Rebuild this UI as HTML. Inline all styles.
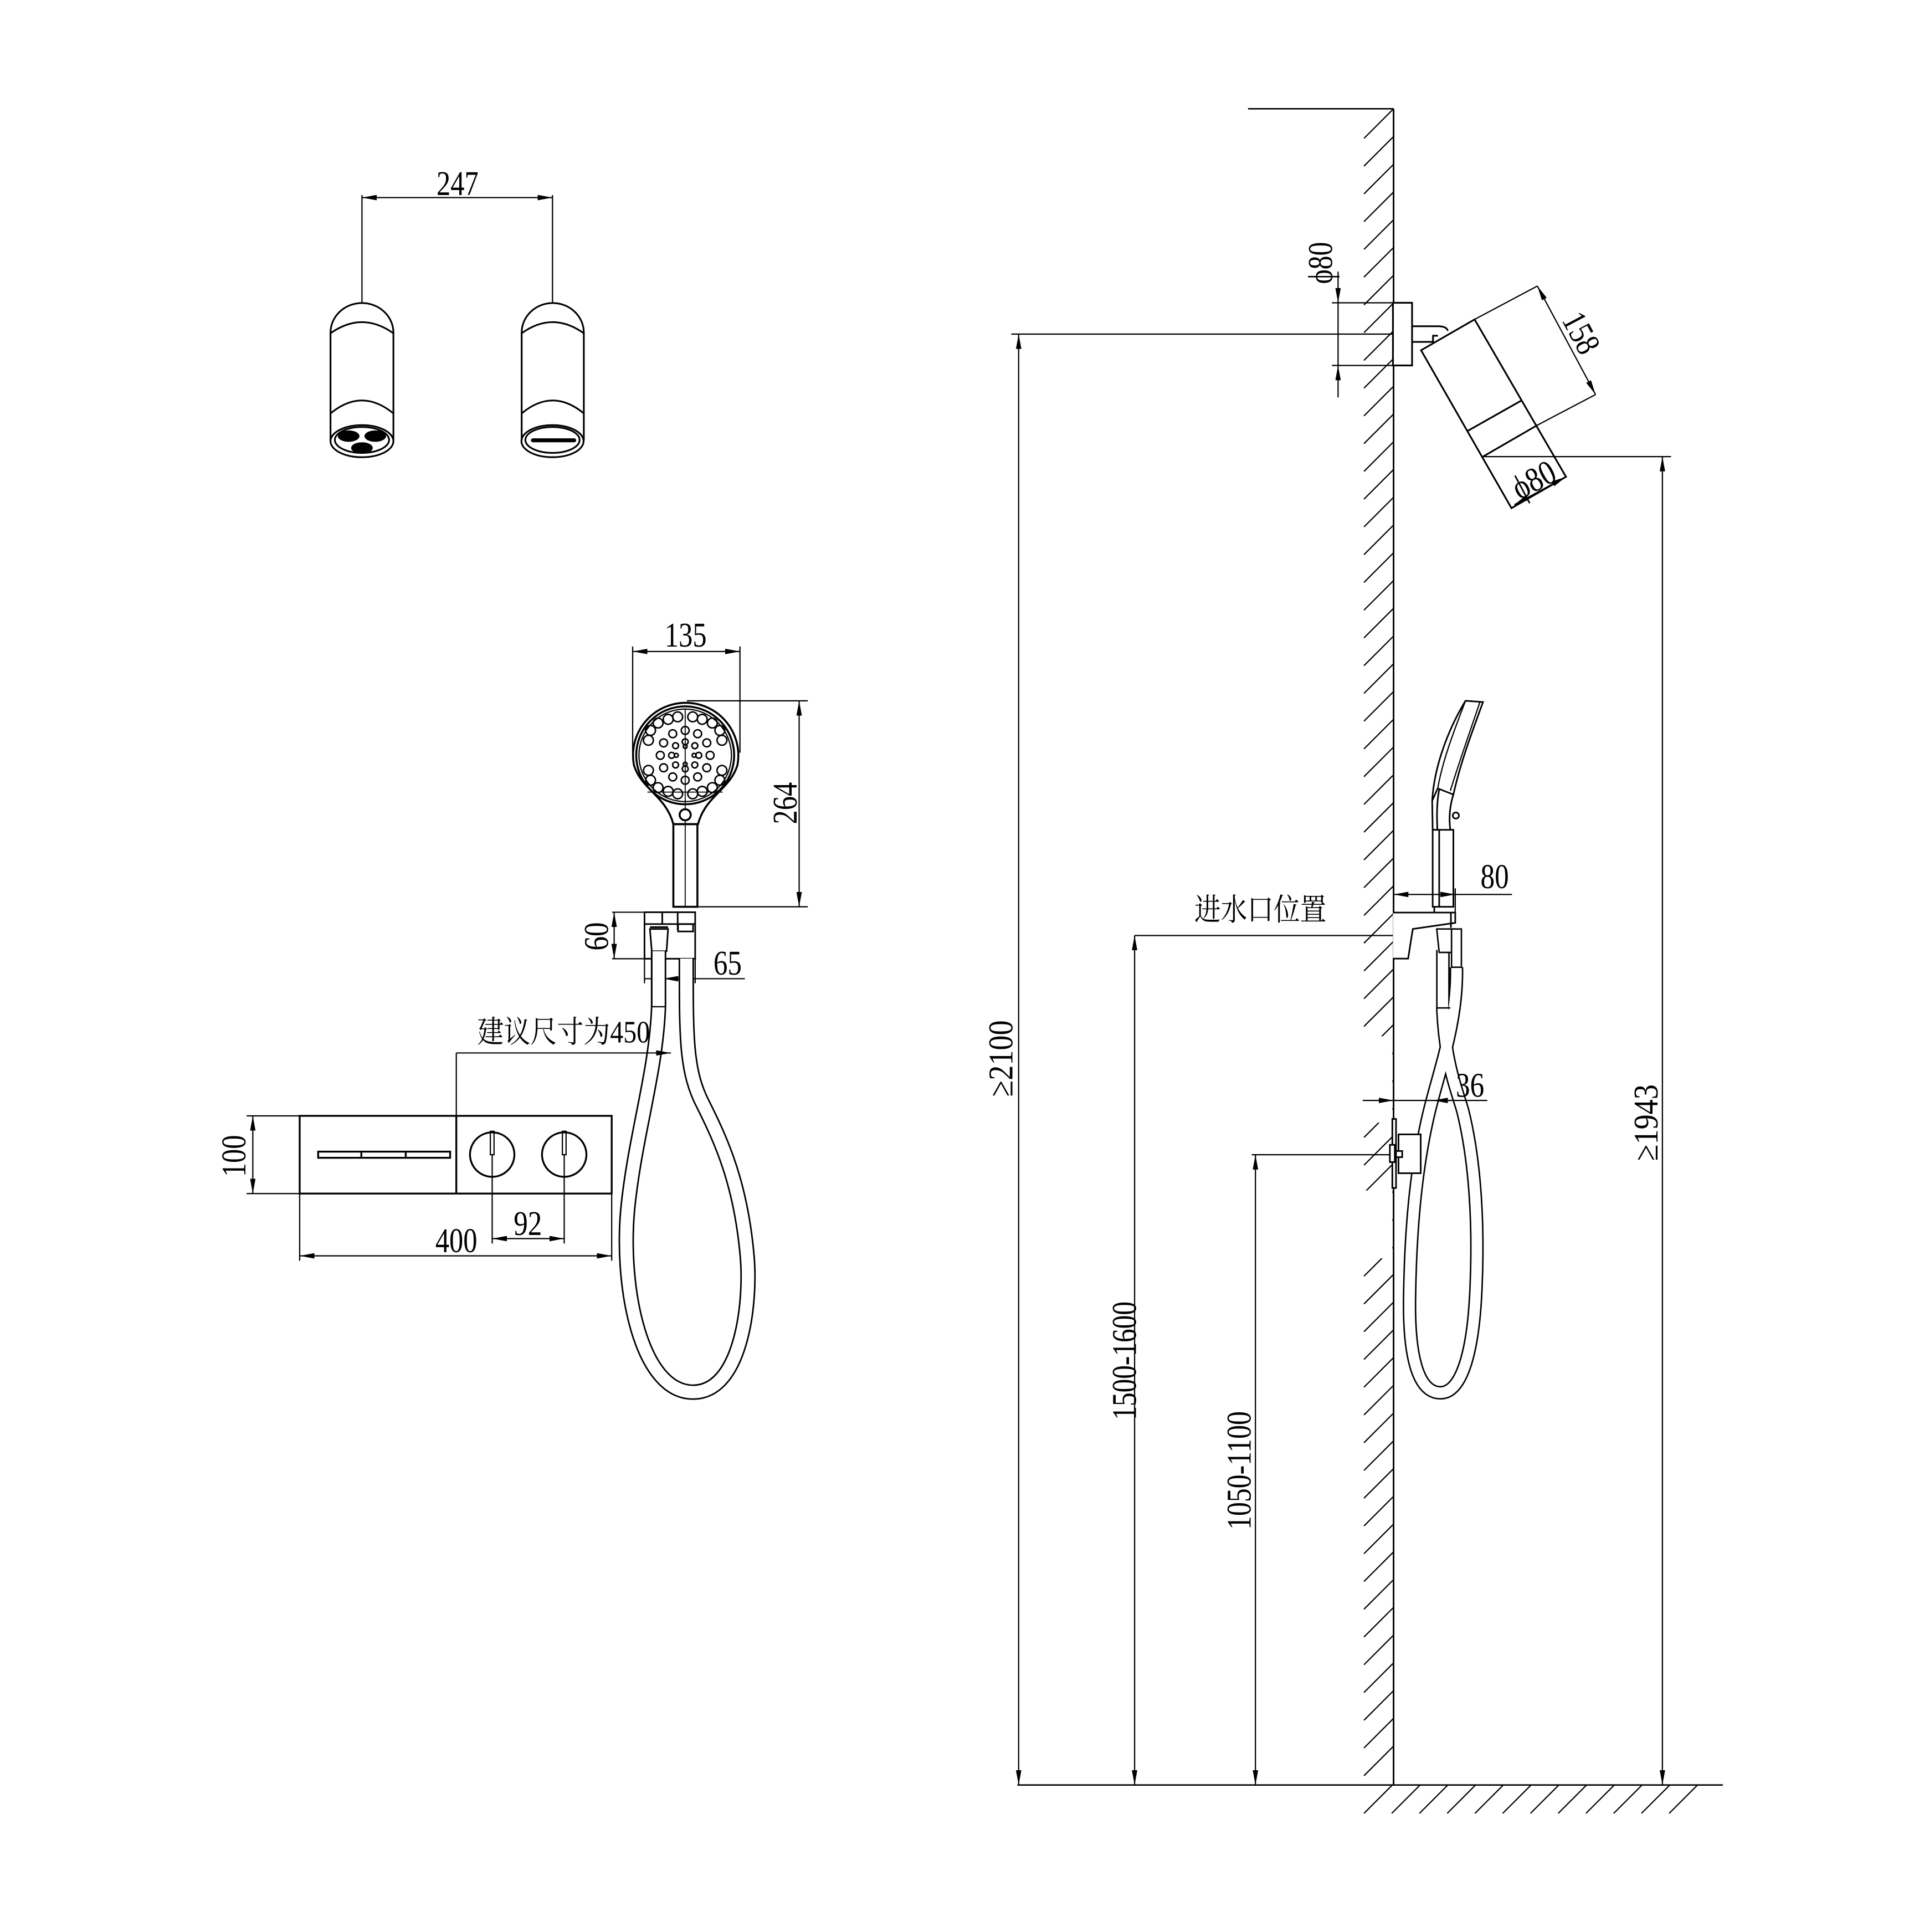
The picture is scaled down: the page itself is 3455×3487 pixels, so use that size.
<!DOCTYPE html>
<html><head><meta charset="utf-8">
<style>
html,body{margin:0;padding:0;background:#fff;}
svg{display:block;}
text{font-family:"Liberation Serif","Noto Serif CJK SC",serif;fill:#000;}
.cj{font-family:"Liberation Serif","Noto Serif CJK SC","Noto Sans CJK SC",serif;}
</style></head><body>
<svg width="3455" height="3487" viewBox="0 0 1552 1566" xmlns="http://www.w3.org/2000/svg">
<defs>
<marker id="a" viewBox="0 0 12 6" refX="12" refY="3" markerWidth="12" markerHeight="6" markerUnits="userSpaceOnUse" orient="auto">
<path d="M0,0.8 L12,3 L0,5.2 Z" fill="#000"/></marker>
<marker id="b" viewBox="0 0 12 6" refX="0" refY="3" markerWidth="12" markerHeight="6" markerUnits="userSpaceOnUse" orient="auto">
<path d="M12,0.8 L0,3 L12,5.2 Z" fill="#000"/></marker>
</defs>
<rect width="1552" height="1566" fill="#fff"/>
<g fill="none" stroke="#000" stroke-width="1">

<!-- ===== TOP CYLINDERS ===== -->
<line x1="293.5" y1="160" x2="448" y2="160" marker-start="url(#b)" marker-end="url(#a)"/>
<line x1="293.5" y1="158" x2="293.5" y2="245.6"/>
<line x1="448" y1="158" x2="448" y2="245.6"/>
<g stroke-width="1.4">
<path d="M268,357 V269.5 A25.5,24 0 0 1 319,269.5 V357"/>
<path d="M268,270 Q293.5,252 319,270"/>
<path d="M268,335 Q293.5,314 319,335"/>
<ellipse cx="293.5" cy="357.5" rx="25.5" ry="13"/>
<ellipse cx="293.5" cy="356.5" rx="22" ry="10.5"/>
<path d="M423,357 V269.5 A25.2,24 0 0 1 473.4,269.5 V357"/>
<path d="M423,270 Q448,252 473.4,270"/>
<path d="M423,335 Q448,314 473.4,335"/>
<ellipse cx="448" cy="357.5" rx="25.2" ry="13"/>
<ellipse cx="448" cy="356.5" rx="22" ry="10.5"/>
</g>
<g fill="#000" stroke="none">
<ellipse cx="282.7" cy="353.4" rx="8.8" ry="4.6"/>
<ellipse cx="304.3" cy="353.4" rx="8.8" ry="4.6"/>
<ellipse cx="293.5" cy="363" rx="8.8" ry="4.6"/>
<rect x="430.5" y="355.2" width="36.7" height="3.2" rx="1.6"/>
</g>

<!-- ===== HANDSHOWER FRONT ===== -->
<line x1="513" y1="528" x2="600" y2="528" marker-start="url(#b)" marker-end="url(#a)"/>
<line x1="513" y1="524" x2="513" y2="610"/>
<line x1="600" y1="524" x2="600" y2="610"/>
<line x1="557" y1="568" x2="655" y2="568"/>
<line x1="566" y1="735" x2="655" y2="735"/>
<line x1="648" y1="568" x2="648" y2="735" marker-start="url(#b)" marker-end="url(#a)"/>
<g stroke-width="1.6">
<path d="M514,620 A42.7,42.7 0 1 1 598,620 C592,640 572,645 566,668 L546,668 C540,645 520,640 514,620 Z"/>
<circle cx="555.6" cy="612.2" r="39.7"/>
<circle cx="555.6" cy="612.2" r="37.5" stroke-width="1"/>
<circle cx="555.6" cy="660.4" r="4.5"/>
<rect x="546" y="668" width="19.5" height="67"/>
</g>
<line x1="555.6" y1="575" x2="555.6" y2="656" stroke-width="0.8"/>
<line x1="555.6" y1="665" x2="555.6" y2="735" stroke-width="0.8"/>
<line x1="525" y1="642" x2="586" y2="642" stroke-width="0.8"/>
<g stroke-width="1.2">
<circle cx="555.6" cy="605" r="1.6"/><circle cx="555.6" cy="619.4" r="1.6"/>
<circle cx="548.4" cy="612.2" r="1.6"/><circle cx="562.8" cy="612.2" r="1.6"/>
<circle cx="566.6" cy="612.2" r="2.4"/><circle cx="544.6" cy="612.2" r="2.4"/>
<circle cx="555.6" cy="601.2" r="2.4"/><circle cx="555.6" cy="623.2" r="2.4"/>
<circle cx="563.4" cy="604.4" r="2.4"/><circle cx="547.8" cy="604.4" r="2.4"/>
<circle cx="563.4" cy="620" r="2.4"/><circle cx="547.8" cy="620" r="2.4"/>
<circle cx="555.6" cy="592" r="3.2"/><circle cx="555.6" cy="632.4" r="3.2"/>
<circle cx="575.8" cy="612.2" r="3.2"/><circle cx="535.4" cy="612.2" r="3.2"/>
<circle cx="565.7" cy="594.7" r="3.2"/><circle cx="545.5" cy="594.7" r="3.2"/>
<circle cx="565.7" cy="629.7" r="3.2"/><circle cx="545.5" cy="629.7" r="3.2"/>
<circle cx="573.1" cy="602.1" r="3.2"/><circle cx="538.1" cy="602.1" r="3.2"/>
<circle cx="573.1" cy="622.3" r="3.2"/><circle cx="538.1" cy="622.3" r="3.2"/>
<circle cx="549.5" cy="581" r="4"/><circle cx="561.7" cy="581" r="4"/>
<circle cx="549.5" cy="643.4" r="4"/><circle cx="561.7" cy="643.4" r="4"/>
<circle cx="577.6" cy="586" r="4"/><circle cx="533.6" cy="586" r="4"/>
<circle cx="577.6" cy="638.4" r="4"/><circle cx="533.6" cy="638.4" r="4"/>
<circle cx="585.4" cy="600" r="4"/><circle cx="525.8" cy="600" r="4"/>
<circle cx="585.4" cy="624.4" r="4"/><circle cx="525.8" cy="624.4" r="4"/>
<circle cx="541.8" cy="583" r="4"/><circle cx="569.4" cy="583" r="4"/>
<circle cx="541.8" cy="641.4" r="4"/><circle cx="569.4" cy="641.4" r="4"/>
<circle cx="527.5" cy="592" r="4"/><circle cx="583.7" cy="592" r="4"/>
<circle cx="527.5" cy="632.4" r="4"/><circle cx="583.7" cy="632.4" r="4"/>
</g>

<!-- holder -->
<g stroke-width="1.3">
<rect x="522.6" y="739.4" width="41.1" height="37.7"/>
<line x1="522.6" y1="749" x2="563.7" y2="749"/>
<line x1="537" y1="739.4" x2="537" y2="749"/>
<line x1="549.5" y1="739.4" x2="549.5" y2="754"/>
<path d="M527,753 L541.7,753 L540.5,771 L528.5,771 Z"/>
<rect x="549.8" y="749" width="12.2" height="6"/>
<line x1="527" y1="751.5" x2="541.7" y2="751.5"/>
</g>
<line x1="496.4" y1="739.4" x2="522" y2="739.4"/>
<line x1="496.4" y1="777.1" x2="522" y2="777.1"/>
<line x1="498" y1="739.4" x2="498" y2="777.1" marker-start="url(#b)" marker-end="url(#a)"/>
<line x1="522.6" y1="777" x2="522.6" y2="797"/>
<line x1="563.7" y1="777" x2="563.7" y2="797"/>
<line x1="522.6" y1="793.3" x2="538" y2="793.3" marker-end="url(#b)" />
<line x1="548" y1="793.3" x2="563.7" y2="793.3" marker-end="url(#a)"/>
<line x1="563.7" y1="793.3" x2="604" y2="793.3"/>
<line x1="538" y1="793.3" x2="548" y2="793.3"/>

<!-- hose front -->
<path d="M534,771 L534,816 C532,870 515,920 509,980 C503,1045 520,1128.5 562,1128.5 C600,1128.5 609,1060 606,1020 C601,960 585,925 570,895 C556,868 556.5,840 556.5,777" stroke="#000" stroke-width="12.5"/>
<path d="M534,771 L534,816 C532,870 515,920 509,980 C503,1045 520,1128.5 562,1128.5 C600,1128.5 609,1060 606,1020 C601,960 585,925 570,895 C556,868 556.5,840 556.5,777" stroke="#fff" stroke-width="10"/>
<line x1="528.6" y1="816" x2="539.5" y2="816"/>
<line x1="528.6" y1="771" x2="528.6" y2="816"/>
<line x1="539.5" y1="771" x2="539.5" y2="816"/>

<!-- 450 -->
<line x1="370" y1="853.5" x2="544" y2="853.5" marker-end="url(#a)"/>
<line x1="370" y1="853.5" x2="370" y2="905"/>

<!-- panel -->
<g stroke-width="1.5">
<rect x="243" y="904.5" width="253" height="63"/>
<line x1="370" y1="904.5" x2="370" y2="967.5"/>
<rect x="258" y="933.5" width="107" height="5"/>
<line x1="293" y1="933.5" x2="293" y2="938.5"/><line x1="329" y1="933.5" x2="329" y2="938.5"/>
<circle cx="399.1" cy="935.9" r="18"/>
<circle cx="457.5" cy="935.9" r="18"/>
<rect x="397.6" y="917" width="3" height="19" stroke-width="1"/>
<rect x="456" y="917" width="3" height="19" stroke-width="1"/>
</g>
<line x1="399.1" y1="936" x2="399.1" y2="1008"/>
<line x1="457.5" y1="936" x2="457.5" y2="1008"/>
<line x1="399.1" y1="1004" x2="457.5" y2="1004" marker-start="url(#b)" marker-end="url(#a)"/>
<line x1="243" y1="967.5" x2="243" y2="1022"/>
<line x1="496" y1="967.5" x2="496" y2="1022"/>
<line x1="243" y1="1018" x2="496" y2="1018" marker-start="url(#b)" marker-end="url(#a)"/>
<line x1="200" y1="904.5" x2="243" y2="904.5"/>
<line x1="200" y1="967.5" x2="243" y2="967.5"/>
<line x1="205" y1="904.5" x2="205" y2="967.5" marker-start="url(#b)" marker-end="url(#a)"/>

<!-- ===== WALL SIDE VIEW ===== -->
<line x1="1012" y1="88" x2="1130" y2="88" stroke-width="1.2"/>
<line x1="1130" y1="88" x2="1130" y2="1447" stroke-width="1.3"/>
<line x1="825" y1="1447" x2="1397" y2="1447" stroke-width="1.2"/>
<g stroke-width="1">
<path d="M1106,112 L1130,88 M1106,134.5 L1130,110.5 M1106,157 L1130,133 M1106,179.5 L1130,155.5 M1106,202 L1130,178 M1106,224.5 L1130,200.5 M1106,247 L1130,223 M1106,269.5 L1130,245.5 M1106,292 L1130,268 M1106,314.5 L1130,290.5 M1106,337 L1130,313 M1106,359.5 L1130,335.5 M1106,382 L1130,358 M1106,404.5 L1130,380.5 M1106,427 L1130,403 M1106,449.5 L1130,425.5 M1106,472 L1130,448 M1106,494.5 L1130,470.5 M1106,517 L1130,493 M1106,539.5 L1130,515.5 M1106,562 L1130,538 M1106,584.5 L1130,560.5 M1106,607 L1130,583 M1106,629.5 L1130,605.5 M1106,652 L1130,628 M1106,674.5 L1130,650.5 M1106,697 L1130,673 M1106,719.5 L1130,695.5 M1106,742 L1130,718 M1106,764.5 L1130,740.5 M1106,787 L1130,763 M1106,809.5 L1130,785.5 M1106,832 L1130,808 M1106,854.5 L1130,830.5 M1106,877 L1130,853 M1106,899.5 L1130,875.5 M1106,922 L1130,898 M1106,944.5 L1130,920.5 M1106,967 L1130,943 M1106,989.5 L1130,965.5 M1106,1012 L1130,988 M1106,1034.5 L1130,1010.5 M1106,1057 L1130,1033 M1106,1079.5 L1130,1055.5 M1106,1102 L1130,1078 M1106,1124.5 L1130,1100.5 M1106,1147 L1130,1123 M1106,1169.5 L1130,1145.5 M1106,1192 L1130,1168 M1106,1214.5 L1130,1190.5 M1106,1237 L1130,1213 M1106,1259.5 L1130,1235.5 M1106,1282 L1130,1258 M1106,1304.5 L1130,1280.5 M1106,1327 L1130,1303 M1106,1349.5 L1130,1325.5 M1106,1372 L1130,1348 M1106,1394.5 L1130,1370.5 M1106,1417 L1130,1393 M1106,1439.5 L1130,1415.5"/>
<path d="M1106,1470 L1129,1447 M1128.5,1470 L1151.5,1447 M1151,1470 L1174,1447 M1173.5,1470 L1196.5,1447 M1196,1470 L1219,1447 M1218.5,1470 L1241.5,1447 M1241,1470 L1264,1447 M1263.5,1470 L1286.5,1447 M1286,1470 L1309,1447 M1308.5,1470 L1331.5,1447 M1331,1470 L1354,1447 M1353.5,1470 L1376.5,1447"/>
</g>
<rect x="1104" y="840" width="25" height="70" fill="#fff" stroke="none"/>
<rect x="1104" y="965" width="25" height="55" fill="#fff" stroke="none"/>

<!-- shower arm & head -->
<line x1="1080" y1="245.3" x2="1145" y2="245.3"/>
<line x1="1080" y1="296.1" x2="1145" y2="296.1"/>
<line x1="820" y1="270.7" x2="1130" y2="270.7"/>
<line x1="1085" y1="220" x2="1085" y2="245.3" marker-end="url(#a)"/>
<line x1="1085" y1="296.1" x2="1085" y2="322" marker-start="url(#b)"/>
<line x1="1085" y1="245.3" x2="1085" y2="296.1"/>
<g stroke-width="1.4">
<rect x="1129.5" y="245.3" width="15.5" height="50.8" fill="#fff"/>
<path d="M1145,264.3 H1166 Q1173,264.3 1174,268 M1145,277 H1162 V272 H1166"/>
<path d="M1152.3,283.8 L1195.7,258.8 L1269.8,386.4 L1225.6,411.8 Z" fill="#fff"/>
<line x1="1190.4" y1="349" x2="1233.9" y2="324.4"/>
<line x1="1202.5" y1="370" x2="1246.6" y2="344.5"/>
</g>
<line x1="1195.7" y1="258.8" x2="1246.6" y2="231.7"/>
<line x1="1246.6" y1="344.5" x2="1293.8" y2="319.7"/>
<line x1="1246.6" y1="231.7" x2="1293.8" y2="319.7" marker-start="url(#b)" marker-end="url(#a)"/>
<line x1="1269.8" y1="386.4" x2="1228" y2="409" marker-start="url(#b)" marker-end="url(#a)"/>
<line x1="1202.5" y1="370" x2="1355" y2="370"/>
<line x1="1348" y1="370" x2="1348" y2="1447" marker-start="url(#b)" marker-end="url(#a)"/>
<line x1="826" y1="270.7" x2="826" y2="1447" marker-start="url(#b)" marker-end="url(#a)"/>

<!-- inlet -->
<line x1="920" y1="758.3" x2="1130" y2="758.3"/>
<line x1="920" y1="758.3" x2="920" y2="1447" marker-start="url(#b)" marker-end="url(#a)"/>
<line x1="1015" y1="936" x2="1130" y2="936"/>
<line x1="1018" y1="936" x2="1018" y2="1447" marker-start="url(#b)" marker-end="url(#a)"/>

<!-- handshower side -->
<g stroke-width="1.3">
<path d="M1161.3,649 C1163,620 1175,590 1188.3,568 L1202.5,569 C1195,590 1185,615 1178.5,644 L1165.8,639 Z" fill="#fff"/>
<path d="M1165.8,639 C1170,615 1180,590 1188.3,568" stroke-width="1"/>
<path d="M1200,569 C1193,590 1184,615 1176,641" stroke-width="1"/>
<path d="M1161.3,649 L1161.7,672.6 M1178.5,644 C1175,655 1175,665 1176,672.6 M1167,640 C1165,650 1165,660 1165.5,672.6"/>
<circle cx="1180.5" cy="661" r="2.5"/>
<rect x="1161.7" y="672.6" width="16.8" height="62.4"/>
<line x1="1167" y1="672.6" x2="1167" y2="735"/>
<path d="M1129.5,739.7 L1180,739.7 L1180,748 L1145.6,753 L1141.8,777 L1129.5,777" fill="#fff"/>
<line x1="1163" y1="735" x2="1163" y2="739.7"/>
<line x1="1176.5" y1="739.7" x2="1176.5" y2="752"/>
</g>
<line x1="1130" y1="725" x2="1145" y2="725" marker-start="url(#b)"/>
<line x1="1145" y1="725" x2="1180" y2="725" marker-end="url(#a)"/>
<line x1="1180" y1="725" x2="1226" y2="725"/>
<line x1="1180" y1="720" x2="1180" y2="739.7"/>

<!-- side hose -->
<path d="M1170,770 L1170,820 C1172,860 1180,880 1186,900 C1196,940 1199,990 1197,1040 C1195,1100 1184,1129 1168,1129 C1150,1129 1142,1100 1143,1050 C1144,985 1150,940 1158,905 C1166,870 1182,830 1181,784" stroke="#000" stroke-width="11"/>
<path d="M1170,770 L1170,820 C1172,860 1180,880 1186,900 C1196,940 1199,990 1197,1040 C1195,1100 1184,1129 1168,1129 C1150,1129 1142,1100 1143,1050 C1144,985 1150,940 1158,905 C1166,870 1182,830 1181,784" stroke="#fff" stroke-width="8.6"/>
<g stroke-width="1.2">
<path d="M1165,753 L1180,753 L1178,772 L1167,772 Z" fill="#fff"/>
<rect x="1177" y="753" width="8" height="31" fill="#fff"/>
<line x1="1164.5" y1="817" x2="1176" y2="817"/>
</g>
<!-- mixer -->
<g stroke-width="1.3">
<rect x="1129" y="907" width="3" height="56" fill="#fff"/>
<rect x="1134" y="919.5" width="18" height="31.5" fill="#fff"/>
<rect x="1127" y="928" width="4" height="14" fill="#fff"/>
<rect x="1132" y="933" width="5" height="5" fill="#fff"/>
</g>
<line x1="1105" y1="892" x2="1130" y2="892" marker-end="url(#a)"/>
<line x1="1130" y1="892" x2="1206" y2="892"/>
<line x1="1175" y1="892" x2="1162" y2="892" marker-end="url(#a)"/>
</g>

<!-- ===== TEXT ===== -->
<g font-size="28">
<text x="371" y="158" text-anchor="middle" textLength="34" lengthAdjust="spacingAndGlyphs">247</text>
<text x="556" y="524" text-anchor="middle" textLength="34" lengthAdjust="spacingAndGlyphs">135</text>
<text x="590" y="790" text-anchor="middle" textLength="23" lengthAdjust="spacingAndGlyphs">65</text>
<text x="428" y="1001" text-anchor="middle" textLength="23" lengthAdjust="spacingAndGlyphs">92</text>
<text x="370" y="1015" text-anchor="middle" textLength="34" lengthAdjust="spacingAndGlyphs">400</text>
<text x="1212" y="720" text-anchor="middle" textLength="23" lengthAdjust="spacingAndGlyphs">80</text>
<text x="1192" y="889" text-anchor="middle" textLength="23" lengthAdjust="spacingAndGlyphs">36</text>
<text x="0" y="0" transform="translate(199,937) rotate(-90)" text-anchor="middle" textLength="34" lengthAdjust="spacingAndGlyphs">100</text>
<text x="0" y="0" transform="translate(646,651) rotate(-90)" text-anchor="middle" textLength="34" lengthAdjust="spacingAndGlyphs">264</text>
<text x="0" y="0" transform="translate(493,759) rotate(-90)" text-anchor="middle" textLength="23" lengthAdjust="spacingAndGlyphs">60</text>
<text x="0" y="0" transform="translate(1080,213) rotate(-90)" text-anchor="middle" textLength="34" lengthAdjust="spacingAndGlyphs">ϕ80</text>
<text x="0" y="0" transform="translate(821,858) rotate(-90)" text-anchor="middle" textLength="62" lengthAdjust="spacingAndGlyphs">≥2100</text>
<text x="0" y="0" transform="translate(1344,910) rotate(-90)" text-anchor="middle" textLength="62" lengthAdjust="spacingAndGlyphs">≥1943</text>
<text x="0" y="0" transform="translate(921,1103) rotate(-90)" text-anchor="middle" textLength="96" lengthAdjust="spacingAndGlyphs">1500-1600</text>
<text x="0" y="0" transform="translate(1014,1192) rotate(-90)" text-anchor="middle" textLength="96" lengthAdjust="spacingAndGlyphs">1050-1100</text>
<text x="0" y="0" transform="translate(1274,274) rotate(62)" text-anchor="middle" textLength="34" lengthAdjust="spacingAndGlyphs">158</text>
<text x="0" y="0" transform="translate(1248,397) rotate(-28)" text-anchor="middle" textLength="36" lengthAdjust="spacingAndGlyphs">ϕ80</text>
</g>
<text class="cj" x="457" y="845" font-size="25" text-anchor="middle" textLength="140" lengthAdjust="spacingAndGlyphs">建议尺寸为450</text>
<text class="cj" x="1022" y="746" font-size="25" text-anchor="middle" textLength="107" lengthAdjust="spacingAndGlyphs">进水口位置</text>
</svg>
</body></html>
